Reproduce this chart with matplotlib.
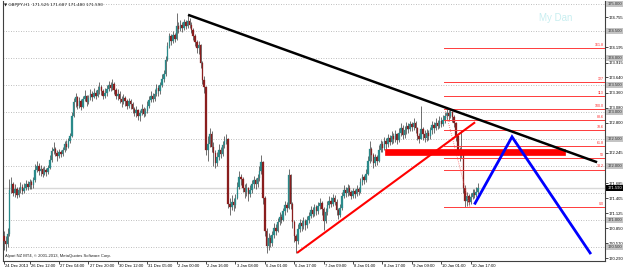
import matplotlib
matplotlib.use("Agg")
import matplotlib.pyplot as plt
import matplotlib.transforms as mtransforms
from matplotlib.patches import Rectangle

# ---------------- data ----------------
header = "▼ GBPJPY,H1  171.525 171.687 171.480 171.590"
footer = "Alpari NZ MT4, © 2001-2013, MetaQuotes Software Corp."
watermark = "My Dan"

first_open = 170.70
closes = [
    170.62, 170.55, 170.74, 171.56, 171.66, 171.50, 171.58, 171.46, 171.55, 171.62,
    171.54, 171.60, 171.66, 171.62, 171.70, 171.64, 171.74, 171.92, 172.00, 171.90,
    171.94, 171.86, 171.93, 171.88, 171.96, 172.12, 172.28, 172.32, 172.24, 172.18,
    172.26, 172.22, 172.30, 172.40, 172.36, 172.46, 172.56, 172.92, 173.18, 173.28,
    173.12, 173.20, 173.10, 173.24, 173.30, 173.18, 173.26, 173.34, 173.28, 173.36,
    173.30, 173.40, 173.46, 173.38, 173.30, 173.36, 173.42, 173.50, 173.44, 173.52,
    173.40, 173.30, 173.34, 173.24, 173.18, 173.26, 173.20, 173.12, 173.20, 173.14,
    173.06, 172.98, 173.04, 172.92, 172.98, 173.06, 172.96, 173.02, 173.12, 173.22,
    173.30, 173.24, 173.34, 173.44, 173.38, 173.50, 173.62, 173.70, 173.96, 174.22,
    174.40, 174.32, 174.42, 174.36, 174.60, 174.54, 174.62, 174.56, 174.66, 174.60,
    174.68, 174.62, 174.52, 174.40, 174.30, 174.18, 174.24, 173.90, 173.60, 173.46,
    172.30, 172.40, 172.60, 172.36, 172.24, 172.06, 172.16, 172.30, 172.22, 172.38,
    172.46, 172.50, 171.30, 171.24, 171.34, 171.28, 171.40, 171.62, 171.80, 171.76,
    171.60, 171.52, 171.60, 171.48, 171.56, 171.66, 171.74, 171.66, 171.78, 171.90,
    172.08, 171.40, 170.80, 170.52, 170.66, 170.58, 170.72, 170.86, 170.80, 170.96,
    171.06, 171.00, 171.16, 171.28, 171.22, 171.84, 171.30, 170.96, 170.70, 170.62,
    170.84, 170.94, 170.88, 170.98, 170.90, 171.00, 171.08, 171.18, 171.12, 171.24,
    171.16, 171.26, 171.32, 171.20, 170.98, 171.14, 171.28, 171.36, 171.30, 171.40,
    171.34, 171.18, 171.10, 171.22, 171.44, 171.56, 171.50, 171.60, 171.52, 171.44,
    171.54, 171.48, 171.58, 171.52, 171.70, 171.80, 171.74, 171.86, 172.10, 172.32,
    172.20, 172.06, 172.16, 172.10, 172.30, 172.40, 172.34, 172.46, 172.40, 172.52,
    172.44, 172.56, 172.50, 172.60, 172.48, 172.62, 172.70, 172.58, 172.66, 172.74,
    172.68, 172.78, 172.72, 172.80, 172.70, 172.56, 172.50, 172.68, 172.60, 172.52,
    172.62, 172.56, 172.66, 172.76, 172.70, 172.80, 172.74, 172.84, 172.78, 172.86,
    172.92, 172.98, 172.92, 173.00, 172.90, 172.80, 172.56, 172.30, 172.24, 172.28,
    171.60, 171.36, 171.44, 171.34, 171.42, 171.50, 171.46, 171.525, 171.59,
]
highs = [
    170.80, 170.70, 170.85, 171.76, 171.80, 171.70, 171.66, 171.62, 171.62, 171.70,
    171.66, 171.68, 171.74, 171.72, 171.76, 171.74, 171.80, 172.04, 172.10, 172.06,
    172.02, 171.98, 172.00, 171.96, 172.02, 172.20, 172.36, 172.44, 172.36, 172.30,
    172.32, 172.30, 172.36, 172.46, 172.48, 172.52, 172.62, 173.00, 173.26, 173.36,
    173.30, 173.28, 173.24, 173.30, 173.40, 173.32, 173.32, 173.42, 173.38, 173.44,
    173.40, 173.48, 173.56, 173.50, 173.42, 173.44, 173.50, 173.58, 173.56, 173.62,
    173.56, 173.44, 173.42, 173.38, 173.30, 173.34, 173.30, 173.24, 173.26, 173.24,
    173.18, 173.10, 173.12, 173.06, 173.04, 173.14, 173.10, 173.08, 173.20, 173.30,
    173.38, 173.36, 173.42, 173.52, 173.50, 173.56, 173.70, 173.78, 174.04, 174.30,
    174.46, 174.44, 174.50, 174.46, 174.83, 174.66, 174.70, 174.66, 174.72, 174.70,
    174.80, 174.74, 174.66, 174.56, 174.44, 174.34, 174.32, 174.26, 173.94, 173.66,
    173.48, 172.56, 172.70, 172.64, 172.44, 172.30, 172.26, 172.40, 172.36, 172.46,
    172.56, 172.60, 172.52, 171.40, 171.46, 171.40, 171.48, 171.70, 171.90, 171.86,
    171.80, 171.66, 171.68, 171.62, 171.64, 171.74, 171.82, 171.78, 171.86, 172.00,
    172.20, 172.10, 171.44, 170.86, 170.76, 170.72, 170.80, 170.94, 170.92, 171.04,
    171.14, 171.12, 171.22, 171.36, 171.34, 171.94, 171.86, 171.34, 171.00, 170.74,
    170.92, 171.02, 171.00, 171.06, 171.02, 171.08, 171.14, 171.26, 171.24, 171.30,
    171.28, 171.34, 171.40, 171.36, 171.24, 171.22, 171.36, 171.44, 171.42, 171.48,
    171.46, 171.38, 171.22, 171.30, 171.52, 171.64, 171.62, 171.66, 171.64, 171.56,
    171.60, 171.58, 171.64, 171.62, 171.78, 171.86, 171.84, 171.94, 172.18, 172.46,
    172.36, 172.24, 172.22, 172.20, 172.38, 172.48, 172.46, 172.54, 172.52, 172.60,
    172.58, 172.64, 172.62, 172.66, 172.62, 172.70, 172.80, 172.76, 172.74, 172.82,
    172.80, 172.84, 172.82, 172.88, 172.84, 172.72, 172.62, 173.12, 172.72, 172.66,
    172.68, 172.66, 172.72, 172.84, 172.82, 172.88, 172.86, 172.92, 172.90, 172.94,
    173.00, 173.06, 173.04, 173.06, 173.02, 172.94, 172.82, 172.58, 172.36, 172.66,
    172.30, 171.64, 171.52, 171.48, 171.50, 171.58, 171.58, 171.62, 171.687,
]
lows = [
    170.45, 170.42, 170.50, 170.70, 171.50, 171.45, 171.42, 171.40, 171.42, 171.50,
    171.48, 171.50, 171.56, 171.55, 171.58, 171.58, 171.60, 171.70, 171.88, 171.84,
    171.82, 171.80, 171.84, 171.82, 171.86, 171.94, 172.08, 172.22, 172.18, 172.10,
    172.14, 172.16, 172.18, 172.26, 172.30, 172.34, 172.42, 172.54, 172.90, 173.10,
    173.06, 173.08, 173.04, 173.08, 173.20, 173.12, 173.14, 173.22, 173.20, 173.26,
    173.24, 173.28, 173.34, 173.32, 173.24, 173.26, 173.30, 173.38, 173.38, 173.40,
    173.34, 173.24, 173.22, 173.16, 173.10, 173.14, 173.12, 173.06, 173.08, 173.06,
    172.98, 172.92, 172.90, 172.86, 172.84, 172.94, 172.90, 172.92, 172.98, 173.08,
    173.18, 173.18, 173.20, 173.30, 173.30, 173.34, 173.46, 173.56, 173.66, 173.94,
    174.18, 174.24, 174.28, 174.30, 174.34, 174.46, 174.50, 174.48, 174.52, 174.54,
    174.56, 174.56, 174.46, 174.34, 174.22, 174.10, 174.08, 173.82, 173.52, 173.36,
    172.20, 172.10, 172.36, 172.26, 172.00, 171.96, 172.00, 172.12, 172.14, 172.18,
    172.34, 172.40, 171.22, 171.10, 171.18, 171.16, 171.22, 171.38, 171.58, 171.64,
    171.52, 171.40, 171.44, 171.36, 171.42, 171.50, 171.60, 171.58, 171.62, 171.72,
    171.86, 171.30, 170.70, 170.38, 170.44, 170.50, 170.52, 170.66, 170.72, 170.78,
    170.90, 170.94, 170.98, 171.10, 171.14, 171.20, 171.20, 170.86, 170.60, 170.38,
    170.56, 170.78, 170.80, 170.84, 170.82, 170.86, 170.94, 171.04, 171.06, 171.08,
    171.10, 171.12, 171.20, 171.10, 170.82, 170.94, 171.10, 171.22, 171.24, 171.26,
    171.28, 171.10, 171.02, 171.06, 171.18, 171.40, 171.42, 171.44, 171.46, 171.38,
    171.40, 171.40, 171.44, 171.46, 171.50, 171.64, 171.66, 171.70, 171.84, 172.06,
    172.10, 171.96, 172.00, 172.02, 172.08, 172.26, 172.26, 172.30, 172.32, 172.36,
    172.38, 172.40, 172.42, 172.44, 172.40, 172.44, 172.56, 172.50, 172.52, 172.60,
    172.62, 172.64, 172.64, 172.66, 172.62, 172.48, 172.42, 172.50, 172.48, 172.44,
    172.46, 172.48, 172.50, 172.60, 172.62, 172.66, 172.68, 172.70, 172.72, 172.74,
    172.80, 172.86, 172.84, 172.88, 172.82, 172.72, 172.46, 172.20, 172.10, 172.14,
    171.50, 171.24, 171.26, 171.28, 171.30, 171.38, 171.40, 171.42, 171.48,
]
opens = [first_open] + closes[:-1]

current_price = 171.590
grid_prices = [170.5, 171.0, 171.5, 172.0, 172.5, 173.0, 173.5, 174.0, 174.5, 175.0]
# price-scale labels that stay visible (the others are hidden under the level boxes)
axis_prices = [170.290, 170.570, 170.850, 171.125, 171.405, 171.685, 172.245,
               172.800, 173.080, 173.360, 173.640, 173.915, 174.195, 174.755]

time_label_bars = [0, 14, 30, 46, 62, 78, 94, 110, 126, 142, 158, 174, 190, 206, 222, 238, 254]
time_labels = ["24 Dec 2013", "26 Dec 12:00", "27 Dec 04:00", "27 Dec 20:00", "30 Dec 12:00",
               "31 Dec 05:00", "2 Jan 00:00", "2 Jan 16:00", "3 Jan 08:00", "6 Jan 01:00",
               "6 Jan 17:00", "7 Jan 09:00", "8 Jan 01:00", "8 Jan 17:00", "9 Jan 09:00",
               "10 Jan 01:00", "10 Jan 17:00"]

# drawn objects (bar index, price)
black_trend = ([100.2, 322.8], [174.80, 172.07])
red_trend = ([159.5, 256.4], [170.39, 172.81])
blue_path = ([256.4, 276.5, 319.0], [171.31, 172.54, 170.39])
red_zone_bars = (207.4, 305.4)
red_zone_prices = (172.20, 172.32)

fib_start_bar = 239.5
fib_high = 173.056
fib_low = 171.241
fib_diag_bars = (240.0, 253.6)
fib_ratios = [0.0, 0.382, 0.5, 0.618, 0.786, 0.886, 1.0, 1.13, 1.272, 1.618]
fib_texts = ["0.0", "38.2", "50", "61.8", "78.6", "88.6", "100.0", "113", "127", "161.8"]

# ---------------- figure ----------------
W, H = 625, 269
fig = plt.figure(figsize=(W / 100, H / 100), dpi=100)
fig.patch.set_facecolor("white")
ax = fig.add_axes([3 / W, 8 / H, 602 / W, 260 / H])
ax.set_facecolor("white")

ax.set_xlim(-0.5, 327.1)
ax.set_ylim(170.2407, 175.0556)

FONT = "Liberation Sans"
FS = 3.0

# grid (dotted) lines
for p in grid_prices:
    ax.axhline(p, color="#a8a8a8", lw=0.6, ls=(0, (1, 2)), zorder=1)
# current price line
ax.axhline(current_price, color="#d8d8d8", lw=1.0, zorder=1)

# candles
up_col, dn_col = "#2a8a8a", "#8a1e1e"
for i, (o, h, l, c) in enumerate(zip(opens, highs, lows, closes)):
    ax.plot([i, i], [l, h], color="#202020", lw=0.45, zorder=3, solid_capstyle="butt")
    col = up_col if c >= o else dn_col
    bot, top = min(o, c), max(o, c)
    ax.add_patch(Rectangle((i - 0.4, bot), 0.8, max(top - bot, 0.008),
                           facecolor=col, edgecolor=col, lw=0.2, zorder=4))

# fibonacci
rng = fib_high - fib_low
for r, t in zip(fib_ratios, fib_texts):
    p = fib_low + r * rng
    ax.plot([fib_start_bar, 327.1], [p, p], color="#ff3b3b", lw=0.7, zorder=5)
    ax.text(326.5, p + 0.02, t, color="#ff2020", fontsize=2.6, family=FONT,
            ha="right", va="bottom", zorder=6)
ax.plot(fib_diag_bars, [fib_high, fib_low], color="#ff5a5a", lw=0.6, ls=(0, (1, 1.5)), zorder=5)

# red zone
ax.add_patch(Rectangle((red_zone_bars[0], red_zone_prices[0]),
                       red_zone_bars[1] - red_zone_bars[0],
                       red_zone_prices[1] - red_zone_prices[0],
                       facecolor="#ff0000", edgecolor="#ff0000", lw=0.5, zorder=6))

# lines
ax.plot(*black_trend, color="black", lw=1.8, zorder=7, solid_capstyle="butt")
ax.plot(*red_trend, color="#ff0000", lw=1.5, zorder=7, solid_capstyle="butt")
ax.plot(*blue_path, color="#0000ff", lw=2.0, zorder=7, solid_joinstyle="miter")

# spines
ax.spines["top"].set_visible(False)
for s in ["left", "bottom", "right"]:
    ax.spines[s].set_color("#404040")
    ax.spines[s].set_linewidth(0.8)

# right price axis
ax.yaxis.tick_right()
ax.set_yticks(axis_prices)
ax.set_yticklabels([f"{p:.3f}" for p in axis_prices], fontsize=FS, family=FONT)
ax.tick_params(axis="y", length=2, width=0.5, pad=1, colors="black")

blend = mtransforms.blended_transform_factory(ax.transAxes, ax.transData)
for p in grid_prices:
    if abs(p - current_price) < 0.15:
        continue
    ax.text(1.004, p, f"{p:.3f}", transform=blend, fontsize=FS, family=FONT,
            ha="left", va="center", color="#303030", zorder=10, clip_on=False,
            bbox=dict(boxstyle="square,pad=0.25", fc="#c4c4c4", ec="none"))
ax.text(1.004, current_price, f"{current_price:.3f}", transform=blend, fontsize=FS,
        family=FONT, ha="left", va="center", color="white", zorder=11, clip_on=False,
        bbox=dict(boxstyle="square,pad=0.25", fc="black", ec="none"))

# time axis
ax.set_xticks(time_label_bars)
ax.set_xticklabels([])
ax.tick_params(axis="x", length=2, width=0.5, colors="black")
tblend = mtransforms.blended_transform_factory(ax.transData, ax.transAxes)
for b, t in zip(time_label_bars, time_labels):
    ax.text(b + 0.6, -0.012, t, transform=tblend, fontsize=FS, family=FONT,
            ha="left", va="top", color="black", clip_on=False)

# texts
fig.text(4 / W, 1 - 5 / H, header, fontsize=FS, family=["DejaVu Sans"], ha="left",
         va="center", color="#202020")
fig.text(5 / W, 1 - 256 / H, footer, fontsize=FS, family=FONT, ha="left",
         va="center", color="#202020")
fig.text(556 / W, 1 - 18 / H, watermark, fontsize=7, family=FONT, ha="center",
         va="center", color="#c8eef0")

fig.savefig("out.png", dpi=100, facecolor="white")
